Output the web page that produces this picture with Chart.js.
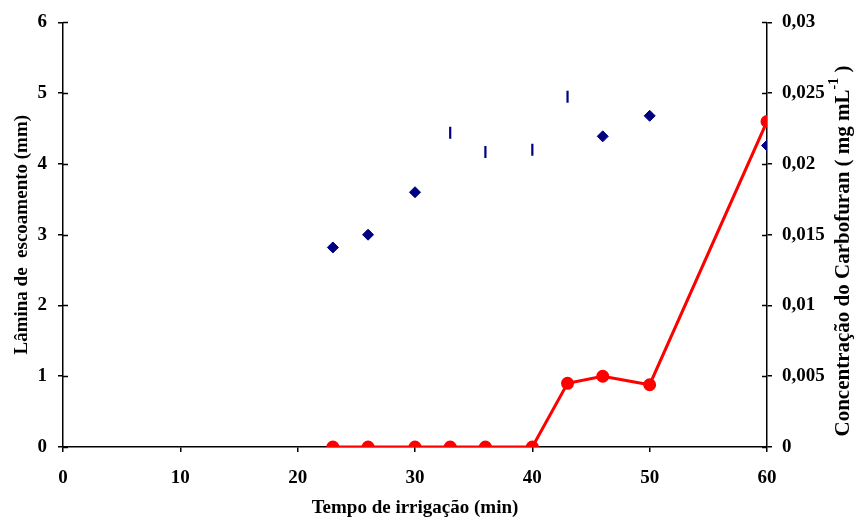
<!DOCTYPE html>
<html>
<head>
<meta charset="utf-8">
<script src="https://cdn.jsdelivr.net/npm/chart.js@4"></script>
<style>
html,body{margin:0;padding:0;background:#fff;}
#wrap{width:854px;height:521px;position:relative;}
</style>
</head>
<body>
<div id="wrap"><canvas id="c" width="854" height="521"></canvas></div>
<script>
const times = [23, 26, 30, 33, 36, 40, 43, 46, 50, 60];
const lamina = [2.82, 3.0, 3.6, 4.44, 4.17, 4.2, 4.95, 4.39, 4.68, 4.26];
const carbofuran = [0, 0, 0, 0, 0, 0, 0.0045, 0.005, 0.0044, 0.023];
const laminaMarkers = ['rectRot','rectRot','rectRot','line','line','line','line','rectRot','rectRot','rectRot'];
const xTicks = [0, 10, 20, 30, 40, 50, 60];
const xTitle = 'Tempo de irrigação (min)';
const yTitle = 'Lâmina de  escoamento (mm)';
const y1TitleMain = 'Concentração do Carbofuran ( mg mL';
const y1TitleSup = '-1';
const y1TitleTail = ' )';

const FONT = 'Liberation Serif, Times New Roman, serif';
const tickFont = {family: FONT, size: 19, weight: 'bold'};

const innerTicks = {
  id: 'innerTicks',
  afterDraw(chart) {
    const ctx = chart.ctx;
    ctx.save();
    ctx.strokeStyle = '#000';
    ctx.lineWidth = 1.5;
    const ys = chart.scales.y, y1 = chart.scales.y1;
    ys.ticks.forEach(t => {
      const p = Math.round(ys.getPixelForValue(t.value)) + 0.5;
      ctx.beginPath(); ctx.moveTo(ys.right, p); ctx.lineTo(ys.right + 5, p); ctx.stroke();
    });
    y1.ticks.forEach(t => {
      const p = Math.round(y1.getPixelForValue(t.value)) + 0.5;
      ctx.beginPath(); ctx.moveTo(y1.left - 5, p); ctx.lineTo(y1.left, p); ctx.stroke();
    });
    // right title, reading bottom to top
    ctx.fillStyle = '#000';
    const mainF = 'bold 21px ' + FONT, supF = 'bold 14px ' + FONT;
    ctx.font = mainF; const w1 = ctx.measureText(y1TitleMain).width; const w3 = ctx.measureText(y1TitleTail).width;
    ctx.font = supF; const w2 = ctx.measureText(y1TitleSup).width;
    const total = w1 + w2 + w3;
    ctx.translate(844, 251);
    ctx.rotate(-Math.PI / 2);
    ctx.textBaseline = 'middle';
    ctx.textAlign = 'left';
    let x = -total / 2;
    ctx.font = mainF; ctx.fillText(y1TitleMain, x, 0); x += w1;
    ctx.font = supF; ctx.fillText(y1TitleSup, x, -10); x += w2;
    ctx.font = mainF; ctx.fillText(y1TitleTail, x, 0);
    ctx.restore();
  }
};

new Chart(document.getElementById('c'), {
  type: 'line',
  data: {
    datasets: [
      {
        label: 'Lâmina',
        data: times.map((t, i) => ({x: t, y: lamina[i]})),
        yAxisID: 'y',
        showLine: false,
        pointStyle: laminaMarkers,
        pointRotation: laminaMarkers.map(m => m === 'line' ? 90 : 0),
        pointRadius: laminaMarkers.map(m => m === 'line' ? 6 : 5.5),
        pointBackgroundColor: '#000080',
        pointBorderColor: '#000080',
        pointBorderWidth: laminaMarkers.map(m => m === 'line' ? 2.2 : 1),
        borderColor: '#000080'
      },
      {
        label: 'Carbofuran',
        data: times.map((t, i) => ({x: t, y: carbofuran[i]})),
        yAxisID: 'y1',
        borderColor: '#ff0000',
        borderWidth: 3,
        pointStyle: 'circle',
        pointRadius: 5,
        pointBackgroundColor: '#ff0000',
        pointBorderColor: '#ff0000',
        tension: 0
      }
    ]
  },
  options: {
    responsive: false,
    animation: false,
    layout: {padding: {top: 19, right: 0, left: 0, bottom: 0}},
    plugins: {legend: {display: false}, tooltip: {enabled: false}},
    scales: {
      x: {
        type: 'linear', min: 0, max: 60,
        afterBuildTicks: s => { s.ticks = xTicks.map(v => ({value: v})); },
        afterFit: s => { s.height = 74; },
        ticks: {font: tickFont, color: '#000', padding: 15, maxRotation: 0},
        grid: {drawOnChartArea: false, drawTicks: true, tickLength: 5, color: '#000', lineWidth: 1.5},
        border: {display: true, color: '#000', width: 1.5},
        title: {display: true, text: xTitle, color: '#000', font: tickFont, padding: {top: 0, bottom: 2}}
      },
      y: {
        position: 'left', min: 0, max: 6,
        ticks: {stepSize: 1, font: tickFont, color: '#000', padding: 11},
        afterFit: s => { s.width = 63; },
        grid: {drawOnChartArea: false, drawTicks: true, tickLength: 5, color: '#000', lineWidth: 1.5},
        border: {display: true, color: '#000', width: 1.5},
        title: {display: true, text: yTitle, color: '#000', font: tickFont, padding: {top: 11, bottom: 0}}
      },
      y1: {
        position: 'right', min: 0, max: 0.03,
        ticks: {stepSize: 0.005, font: tickFont, color: '#000', padding: 10,
          callback: v => v === 0 ? '0' : v.toFixed(3).replace(/0+$/, '').replace('.', ',')},
        afterFit: s => { s.width = 87; },
        grid: {drawOnChartArea: false, drawTicks: true, tickLength: 5, color: '#000', lineWidth: 1.5},
        border: {display: true, color: '#000', width: 1.5}
      }
    }
  },
  plugins: [innerTicks]
});
</script>
</body>
</html>
